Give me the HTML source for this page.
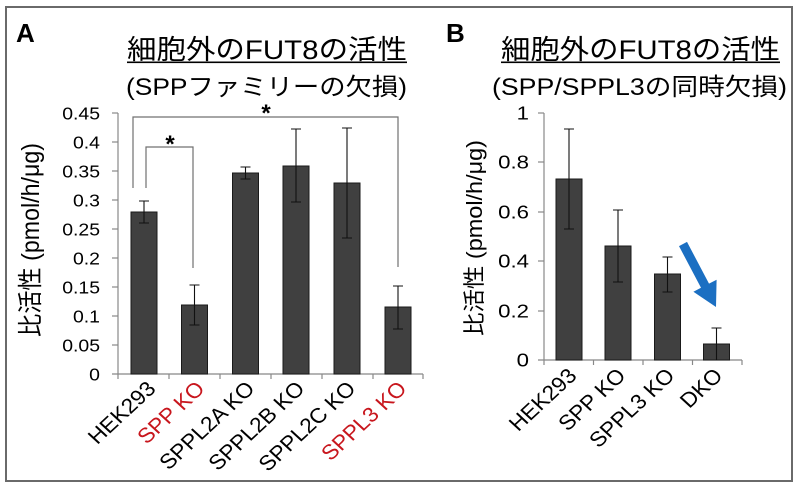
<!DOCTYPE html>
<html><head><meta charset="utf-8">
<style>
html,body{margin:0;padding:0;background:#fff;}
svg{display:block;}
text{font-family:"Liberation Sans","Noto Sans CJK JP",sans-serif;}
</style></head>
<body>
<svg width="800" height="487" viewBox="0 0 800 487" xmlns="http://www.w3.org/2000/svg">
<rect x="0" y="0" width="800" height="487" fill="#fff"/>
<rect x="6" y="7" width="786" height="474" fill="none" stroke="#6a6a6a" stroke-width="2"/>

<!-- Panel letters -->
<text x="16" y="42" font-size="26" font-weight="bold" fill="#000">A</text>
<text x="446" y="42" font-size="26" font-weight="bold" fill="#000">B</text>

<!-- Titles A -->
<text x="127" y="59" font-size="27" textLength="280" lengthAdjust="spacingAndGlyphs" fill="#000">細胞外のFUT8の活性</text>
<rect x="127" y="61.5" width="280" height="1.6" fill="#000"/>
<text x="126" y="95" font-size="24" textLength="281" lengthAdjust="spacingAndGlyphs" fill="#000">(SPPファミリーの欠損)</text>

<!-- Titles B -->
<text x="501" y="59" font-size="27" textLength="279" lengthAdjust="spacingAndGlyphs" fill="#000">細胞外のFUT8の活性</text>
<rect x="501" y="61.5" width="279" height="1.6" fill="#000"/>
<text x="492" y="95" font-size="24" textLength="295" lengthAdjust="spacingAndGlyphs" fill="#000">(SPP/SPPL3の同時欠損)</text>

<!-- Y labels -->
<text transform="translate(39,240) rotate(-90)" text-anchor="middle" font-size="25" textLength="194" lengthAdjust="spacingAndGlyphs" fill="#000">比活性 (pmol/h/μg)</text>
<text transform="translate(482,238) rotate(-90)" text-anchor="middle" font-size="22" textLength="196" lengthAdjust="spacingAndGlyphs" fill="#000">比活性 (pmol/h/μg)</text>

<!-- Panel A axes -->
<g stroke="#888" stroke-width="1.2" fill="none">
  <line x1="118" y1="113" x2="118" y2="374"/>
  <line x1="112" y1="374" x2="423" y2="374"/>
  <line x1="112" y1="113" x2="118" y2="113"/>
  <line x1="112" y1="142" x2="118" y2="142"/>
  <line x1="112" y1="171" x2="118" y2="171"/>
  <line x1="112" y1="200" x2="118" y2="200"/>
  <line x1="112" y1="229" x2="118" y2="229"/>
  <line x1="112" y1="258" x2="118" y2="258"/>
  <line x1="112" y1="287" x2="118" y2="287"/>
  <line x1="112" y1="316" x2="118" y2="316"/>
  <line x1="112" y1="345" x2="118" y2="345"/>
  <line x1="169" y1="374" x2="169" y2="379"/>
  <line x1="220" y1="374" x2="220" y2="379"/>
  <line x1="271" y1="374" x2="271" y2="379"/>
  <line x1="322" y1="374" x2="322" y2="379"/>
  <line x1="373" y1="374" x2="373" y2="379"/>
  <line x1="423" y1="374" x2="423" y2="379"/>
  <line x1="118" y1="374" x2="118" y2="379"/>
</g>
<g font-size="18" fill="#000" text-anchor="end">
  <g transform="translate(100,0) scale(1.08,1)">
    <text x="0" y="119.5">0.45</text>
    <text x="0" y="148.5">0.4</text>
    <text x="0" y="177.5">0.35</text>
    <text x="0" y="206.5">0.3</text>
    <text x="0" y="235.5">0.25</text>
    <text x="0" y="264.5">0.2</text>
    <text x="0" y="293.5">0.15</text>
    <text x="0" y="322.5">0.1</text>
    <text x="0" y="351.5">0.05</text>
    <text x="0" y="380.5">0</text>
  </g>
</g>

<!-- Panel A bars -->
<g fill="#404040" stroke="#1a1a1a" stroke-width="1">
  <rect x="131" y="212" width="26" height="162"/>
  <rect x="181.5" y="305" width="26" height="69"/>
  <rect x="232.5" y="173" width="26" height="201"/>
  <rect x="283" y="166" width="26" height="208"/>
  <rect x="334" y="183" width="26" height="191"/>
  <rect x="385" y="307" width="26" height="67"/>
</g>
<g stroke="#111" stroke-width="1.1" fill="none">
  <path d="M144 201V223M139 201H149M139 223H149"/>
  <path d="M194.5 285V325M189.5 285H199.5M189.5 325H199.5"/>
  <path d="M245.5 167V179M240.5 167H250.5M240.5 179H250.5"/>
  <path d="M296 129V202M291 129H301M291 202H301"/>
  <path d="M347 128V238M342 128H352M342 238H352"/>
  <path d="M398 286V329M393 286H403M393 329H403"/>
</g>

<!-- Brackets -->
<g stroke="#707070" stroke-width="1.2" fill="none">
  <polyline points="133,188 133,117 398,117 398,267"/>
  <polyline points="146,188 146,147 193,147 193,268"/>
</g>
<text x="266" y="121" font-size="24" font-weight="bold" text-anchor="middle" fill="#000">*</text>
<text x="170" y="152" font-size="24" font-weight="bold" text-anchor="middle" fill="#000">*</text>

<!-- Panel A x labels -->
<g font-size="21" text-anchor="end">
  <text transform="translate(157,390) scale(1.08,1) rotate(-45)" fill="#000">HEK293</text>
  <text transform="translate(206,390) scale(1.08,1) rotate(-45)" fill="#c8161d">SPP KO</text>
  <text transform="translate(256,390) scale(1.08,1) rotate(-45)" fill="#000">SPPL2A KO</text>
  <text transform="translate(306,390) scale(1.08,1) rotate(-45)" fill="#000">SPPL2B KO</text>
  <text transform="translate(357,390) scale(1.08,1) rotate(-45)" fill="#000">SPPL2C KO</text>
  <text transform="translate(408,390) scale(1.08,1) rotate(-45)" fill="#c8161d">SPPL3 KO</text>
</g>

<!-- Panel B axes -->
<g stroke="#888" stroke-width="1.2" fill="none">
  <line x1="544" y1="113" x2="544" y2="360"/>
  <line x1="538" y1="360" x2="742" y2="360"/>
  <line x1="538" y1="113" x2="544" y2="113"/>
  <line x1="538" y1="162" x2="544" y2="162"/>
  <line x1="538" y1="212" x2="544" y2="212"/>
  <line x1="538" y1="261" x2="544" y2="261"/>
  <line x1="538" y1="311" x2="544" y2="311"/>
  <line x1="544" y1="360" x2="544" y2="365"/>
  <line x1="593.5" y1="360" x2="593.5" y2="365"/>
  <line x1="643" y1="360" x2="643" y2="365"/>
  <line x1="692.5" y1="360" x2="692.5" y2="365"/>
  <line x1="742" y1="360" x2="742" y2="365"/>
</g>
<g font-size="18.5" fill="#000" text-anchor="end">
  <g transform="translate(529,0) scale(1.2,1)">
    <text x="0" y="119.5">1</text>
    <text x="0" y="168.5">0.8</text>
    <text x="0" y="218.5">0.6</text>
    <text x="0" y="267.5">0.4</text>
    <text x="0" y="317.5">0.2</text>
    <text x="0" y="366.5">0</text>
  </g>
</g>

<!-- Panel B bars -->
<g fill="#404040" stroke="#1a1a1a" stroke-width="1">
  <rect x="556" y="179" width="26" height="181"/>
  <rect x="605" y="246" width="26" height="114"/>
  <rect x="654.5" y="274" width="26" height="86"/>
  <rect x="703.5" y="344" width="26" height="16"/>
</g>
<g stroke="#111" stroke-width="1.1" fill="none">
  <path d="M569 129V229M564 129H574M564 229H574"/>
  <path d="M618 210V282M613 210H623M613 282H623"/>
  <path d="M667.5 257V292M662.5 257H672.5M662.5 292H672.5"/>
  <path d="M716.5 328V360M711.5 328H721.5"/>
</g>

<!-- Arrow -->
<polygon points="679,246.1 687,241.9 709,283.6 716.6,279.7 716,307 693.4,291.7 701,287.8" fill="#1b6fc2"/>

<!-- Panel B x labels -->
<g font-size="21" text-anchor="end" fill="#000">
  <text transform="translate(578,377) scale(1.08,1) rotate(-45)">HEK293</text>
  <text transform="translate(627,377) scale(1.08,1) rotate(-45)">SPP KO</text>
  <text transform="translate(676,377) scale(1.08,1) rotate(-45)">SPPL3 KO</text>
  <text transform="translate(724,377) scale(1.08,1) rotate(-45)">DKO</text>
</g>
</svg>
</body></html>
